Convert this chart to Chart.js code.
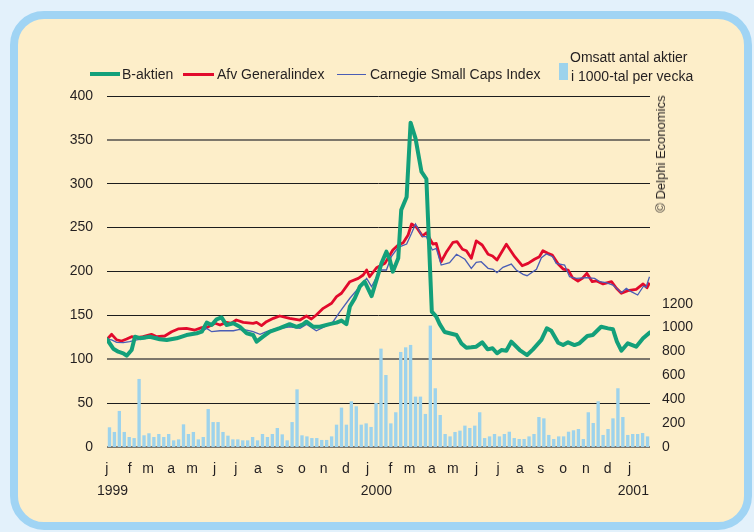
<!DOCTYPE html>
<html>
<head>
<meta charset="utf-8">
<script src="https://cdn.jsdelivr.net/npm/chart.js@4.4.1/dist/chart.umd.min.js"></script>
<style>
  html,body{margin:0;padding:0;background:#e3f1fb;}
  #wrap{position:relative;width:754px;height:532px;overflow:hidden;background:#e3f1fb;}
  .frame{position:absolute;left:10px;top:11px;width:726px;height:503px;border:8px solid #a0d4f4;border-radius:34px;background:#fdeec9;}
  canvas{position:absolute;left:0;top:0;}
  .t{position:absolute;font-family:"Liberation Sans",Arial,sans-serif;font-size:14px;line-height:16px;color:#231f20;white-space:nowrap;}
  .sw{position:absolute;}
</style>
</head>
<body>
<div id="wrap">
  <div class="frame"></div>
  <canvas id="c" width="754" height="532"></canvas>
  <div class="sw" style="left:90px;top:72px;width:30px;height:4px;background:#13a07a;"></div>
  <div class="t" style="left:122px;top:66px;">B-aktien</div>
  <div class="sw" style="left:183px;top:72.5px;width:31px;height:3px;background:#e20a2c;"></div>
  <div class="t" style="left:217px;top:66px;">Afv Generalindex</div>
  <div class="sw" style="left:337px;top:73.5px;width:29px;height:1.5px;background:#4a5db5;"></div>
  <div class="t" style="left:370px;top:66px;">Carnegie Small Caps Index</div>
  <div class="sw" style="left:559px;top:63px;width:8.5px;height:17px;background:#9dd3ec;"></div>
  <div class="t" style="left:570px;top:49px;">Omsatt antal aktier</div>
  <div class="t" style="left:571px;top:68px;">i 1000-tal per vecka</div>
  <div class="t" style="left:661px;top:154px;font-size:13px;transform:translate(-50%,-50%) rotate(-90deg);">© Delphi Economics</div>
</div>
<script>
// ---- data ----
const monthLabels = ['j','f','m','a','m','j','j','a','s','o','n','d','j','f','m','a','m','j','j','a','s','o','n','d','j'];
const monthPos = [-0.55,4.11,7.81,12.47,16.72,21.3,25.57,30.06,34.55,38.97,43.38,47.87,52.29,56.94,60.81,65.3,69.55,74.37,78.7,83.12,87.39,91.88,96.52,100.93,105.34];
const yearLabels = ['1999','2000','2001'];
const yearPos = [0.61,54.07,106.13];
const volTicks = [0,200,400,600,800,1000,1200];

const volume = [165,126,302,126,84,75,570,98,115,84,109,84,109,56,64,190,109,126,64,84,318,209,209,126,95,64,64,56,56,84,56,109,84,109,159,
106,56,209,483,98,89,75,75,59,59,89,187,330,187,383,341,187,198,168,369,824,603,198,291,796,835,855,422,422,277,1017,492,268,109,89,126,137,179,159,179,291,
75,89,109,89,109,128,75,67,67,89,109,251,240,101,67,89,89,128,140,151,67,291,201,383,101,151,240,492,251,101,109,109,117,89];

const greenX = [-0.5,0.77,1.78,2.79,3.48,4.49,5.16,6.17,8.2,10.2,11.6,13.6,15.6,17.7,18.7,19.7,20.7,21.7,22.7,23.7,25.1,26.4,27.8,29.1,29.8,31.1,32.5,34.5,36.5,37.9,39.2,39.9,41.3,42.6,44.6,46,47,48,48.7,49.7,50.7,51.7,53.1,54.1,55.1,56.1,56.8,57.4,58.5,59.1,60.2,61,62,63.2,64.2,65.3,66.2,66.9,67.9,68.9,70.3,71.3,72.3,73.3,74.3,75.5,76.6,77.6,78.5,79.4,80.4,81.4,83.1,84.6,85.8,87.5,88.6,89.5,90.9,91.9,92.9,94.2,95.2,96.8,97.9,99.6,101,102,102.8,103.7,105,106.7,108.1,109.4];
const greenY = [122.7,112,108.6,106.8,104,110.5,125.7,124,125.7,122.7,122,123.9,127.6,129.6,131.4,141.7,139,145.5,147.8,139,141,137,129.6,127.6,120,125.7,131.4,135.5,140,137,139.8,142.8,137,137,140,141.7,144,140,160,169.5,182.7,188.4,172,190.3,209.3,222.6,213,199.8,215,270,285,369.6,351.8,313.8,305.4,154.2,148.5,140,131,129.6,127.6,118,113.2,113.6,114.3,119.3,111.3,112.5,106.8,110.5,109.7,120,110.5,104.8,111.3,122,135.2,132.5,118.8,116.2,119.3,116.2,118.2,126.5,127.6,137,135.2,134.1,120,109.7,118.2,114.3,123.9,130.3];

const redX = [-0.5,0.45,1.46,2.47,3.48,4.49,5.5,6.8,8.5,9.6,11.2,12.6,13.9,15.6,17.3,18.7,20,21.4,22.4,23.7,24.7,25.7,27.1,29.1,29.8,30.8,31.8,33.2,34.5,36.5,38.6,39.9,40.9,41.9,43.3,45,46,47,48.7,50.4,51.4,52.1,52.7,54.1,55.8,57.4,58.5,59.5,60.5,61.2,62.2,63.4,64.2,65.5,66.2,67.2,68.3,69.6,70.4,71.5,72.3,73.3,74.3,75.5,76.7,77.6,78.5,80.4,82.1,83.6,84.8,86.1,87.1,87.8,88.8,89.7,90.9,91.9,92.9,93.8,94.9,95.8,96.7,97.8,98.7,100,101.7,102.7,103.7,105,106.7,108.1,108.9,109.4];
const redY = [122.7,128.4,122,120.8,123,125.7,124.6,125.7,128.4,125.7,126.5,131.4,134.5,135.2,133.3,136,137,141,139,142,141,144.7,142,141,142,138.3,142.8,146.6,149.3,146.6,144.7,149.3,145.9,150.4,158,163.8,171.3,175.2,188.4,192.2,196,201.7,194,204.3,209.3,224.5,230.2,232.8,241.6,254.1,250.4,240.5,244.2,231.3,232.1,211.2,222.6,233.3,234,225.3,223.7,215,234.8,230.2,219.6,217.7,213.1,231,216.9,206.6,209.3,213.9,216.9,223.7,220.7,218.8,208.5,202.8,201.7,193,189.2,192.2,197.9,188.4,189.2,185.8,188.4,180.9,175.2,178.1,179.7,185.8,181.5,187.2];

const blueX = [-0.5,0.45,1.46,2.8,4.1,5.5,7.5,9.6,10.6,12.2,14.3,16.3,18.3,19.7,20.7,22.4,25.1,26.4,27.8,29.1,30.5,31.8,33.2,34.5,36.5,38.6,39.9,41.9,43.6,45.3,46.7,48.7,50.7,52.1,53.1,54.8,56.1,57.1,58.5,60.2,61.2,62,63.4,64.2,65.4,66.2,67.2,68.9,70.3,72,73.3,74.3,75.3,76.7,77.7,78.5,79.7,81.4,82.4,83.8,84.6,86.5,87.5,88.5,89.8,90.5,92.2,93.2,94.6,96.6,98.3,99.3,100.6,102,103.7,104.7,105.7,107,108.2,108.7,109.4];
const blueY = [122.7,122,119.3,118.9,120,122,123.9,125.7,122,122.7,125.7,128.8,130.3,135.2,131.4,132.5,132.5,134.1,133.3,131.4,128.4,131.4,134.1,135,137,135.2,139.8,132.5,137,142.8,154.2,169.5,182.7,192.2,182.7,201.7,201.7,216.9,227.6,231.3,243.5,254.1,239.7,239.7,224.5,226.4,207.4,210,219.6,213.9,203.6,210.5,211.2,203.6,202.5,198.7,204.8,208.5,201.7,196.8,195.2,202.5,215.7,220,216.9,209.3,207.4,194,192.2,193,192.2,188.4,187.2,184.6,175.8,180.9,177,173.2,183.5,182,194];

// ---- chart ----
const FONT = '"Liberation Sans", Arial, sans-serif';
const TXT = '#231f20';
const zip = (xs, ys) => xs.map((x, i) => ({x: x, y: ys[i]}));
const bars = volume.map((v, i) => ({x: i, y: v}));

Chart.defaults.font.family = FONT;

new Chart(document.getElementById('c'), {
  type: 'bar',
  data: {
    datasets: [
      {type: 'line', label: 'B-aktien', data: zip(greenX, greenY), borderColor: '#13a07a', borderWidth: 4,
       pointRadius: 0, tension: 0, borderJoinStyle: 'round', borderCapStyle: 'round', yAxisID: 'y', xAxisID: 'x', order: 1},
      {type: 'line', label: 'Carnegie Small Caps Index', data: zip(blueX, blueY), borderColor: '#4a5db5', borderWidth: 1.3,
       pointRadius: 0, tension: 0, yAxisID: 'y', xAxisID: 'x', order: 2},
      {type: 'line', label: 'Afv Generalindex', data: zip(redX, redY), borderColor: '#e20a2c', borderWidth: 2.8,
       pointRadius: 0, tension: 0, borderJoinStyle: 'round', yAxisID: 'y', xAxisID: 'x', order: 3},
      {type: 'bar', label: 'Omsatt antal aktier i 1000-tal per vecka', data: bars, backgroundColor: '#9dd3ec',
       borderWidth: 0, barPercentage: 0.85, categoryPercentage: 0.8, yAxisID: 'y2', xAxisID: 'x', order: 4}
    ]
  },
  options: {
    responsive: false,
    animation: false,
    devicePixelRatio: 1,
    events: [],
    layout: {padding: {top: 96, left: 0, right: 0, bottom: 0}},
    plugins: {legend: {display: false}, tooltip: {enabled: false}},
    scales: {
      x: {
        type: 'linear', position: 'bottom', min: -0.5, max: 109.5, weight: 0, offset: false,
        grid: {display: false, drawTicks: false}, border: {display: false},
        afterBuildTicks: s => { s.ticks = monthPos.map(v => ({value: v})); },
        afterFit: s => { s.height = 30; },
        ticks: {autoSkip: false, maxRotation: 0, minRotation: 0, padding: 13.6, color: TXT, font: {size: 14},
                callback: (v, i) => monthLabels[i]}
      },
      xYear: {
        type: 'linear', position: 'bottom', min: -0.5, max: 109.5, weight: 1, offset: false,
        grid: {display: false, drawTicks: false}, border: {display: false},
        afterBuildTicks: s => { s.ticks = yearPos.map(v => ({value: v})); },
        afterFit: s => { s.height = 55; },
        ticks: {autoSkip: false, maxRotation: 0, minRotation: 0, padding: 5.6, color: TXT, font: {size: 14},
                callback: (v, i) => yearLabels[i]}
      },
      y: {
        position: 'left', min: 0, max: 400,
        grid: {drawTicks: false,
               color: c => ([0, 100, 350].includes(c.tick.value) ? '#7d776b' : '#1c1c1c'),
               lineWidth: c => ([0, 100, 350].includes(c.tick.value) ? 2 : 1)},
        border: {display: false},
        afterFit: s => { s.width = 107; },
        ticks: {stepSize: 50, padding: 14, color: TXT, font: {size: 14}}
      },
      y2: {
        position: 'right', min: 0, max: 2940,
        grid: {display: false, drawTicks: false}, border: {display: false},
        afterBuildTicks: s => { s.ticks = volTicks.map(v => ({value: v})); },
        afterFit: s => { s.width = 104; },
        ticks: {padding: 12, color: TXT, font: {size: 14}, callback: v => String(v)}
      }
    }
  }
});
</script>
</body>
</html>
